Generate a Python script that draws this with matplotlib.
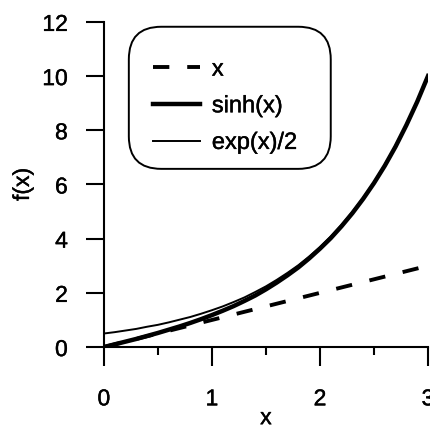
import matplotlib
matplotlib.use("Agg")
import matplotlib.pyplot as plt
import matplotlib.patheffects as pe
from matplotlib.patches import FancyBboxPatch
from matplotlib.ticker import MultipleLocator

plt.rcParams['font.family'] = ['Liberation Sans', 'DejaVu Sans']

x_vals = [0.0, 0.1, 0.2, 0.3, 0.4, 0.5, 0.6, 0.7, 0.8, 0.9, 1.0,
          1.1, 1.2, 1.3, 1.4, 1.5, 1.6, 1.7, 1.8, 1.9, 2.0,
          2.1, 2.2, 2.3, 2.4, 2.5, 2.6, 2.7, 2.8, 2.9, 3.0]
y_lin = [0.0, 0.1, 0.2, 0.3, 0.4, 0.5, 0.6, 0.7, 0.8, 0.9, 1.0,
         1.1, 1.2, 1.3, 1.4, 1.5, 1.6, 1.7, 1.8, 1.9, 2.0,
         2.1, 2.2, 2.3, 2.4, 2.5, 2.6, 2.7, 2.8, 2.9, 3.0]
y_sinh = [0.0, 0.1, 0.2, 0.3, 0.41, 0.52, 0.64, 0.76, 0.89, 1.03, 1.18,
          1.34, 1.51, 1.70, 1.90, 2.13, 2.38, 2.65, 2.94, 3.27, 3.63,
          4.02, 4.46, 4.94, 5.47, 6.05, 6.69, 7.40, 8.19, 9.05, 10.0]
y_exp = [0.5, 0.55, 0.61, 0.67, 0.75, 0.82, 0.91, 1.01, 1.11, 1.23, 1.36,
         1.50, 1.66, 1.83, 2.03, 2.24, 2.48, 2.74, 3.02, 3.34, 3.69,
         4.08, 4.51, 4.99, 5.51, 6.09, 6.73, 7.44, 8.22, 9.08, 10.04]
labels = ["x", "sinh(x)", "exp(x)/2"]

FS = 16.5
stroke = [pe.withStroke(linewidth=0.3, foreground='black')]

fig = plt.figure(figsize=(4.31, 4.29), dpi=100)
ax = fig.add_axes([0.241, 0.191, 0.752, 0.758])

ax.plot(x_vals, y_lin, color='black', lw=2.8, ls=(0, (4.2, 4.6)), label=labels[0])
ax.plot(x_vals, y_sinh, color='black', lw=3.2, label=labels[1])
ax.plot(x_vals, y_exp, color='black', lw=1.4, label=labels[2])

ax.set_xlim(0, 3)
ax.set_ylim(0, 12)
ax.set_xticks([0, 1, 2, 3])
ax.xaxis.set_minor_locator(MultipleLocator(0.5))
ax.set_yticks([0, 2, 4, 6, 8, 10, 12])

for s in ['top', 'right']:
    ax.spines[s].set_visible(False)
for s in ['left', 'bottom']:
    ax.spines[s].set_linewidth(1.5)

ax.tick_params(axis='y', which='major', length=13, width=1.5, labelsize=FS, pad=13)
ax.tick_params(axis='x', which='major', length=14, width=1.5, labelsize=FS, pad=15)
ax.tick_params(axis='x', which='minor', length=6, width=1.5)
for t in ax.get_xticklabels() + ax.get_yticklabels():
    t.set_clip_on(False)
    t.set_path_effects(stroke)

ax.set_xlabel('x', fontsize=FS, labelpad=-3)
ax.set_ylabel('f(x)', fontsize=FS, labelpad=6)
ax.xaxis.label.set_path_effects(stroke)
ax.yaxis.label.set_path_effects(stroke)

box = FancyBboxPatch((0.077, 0.548), 0.623, 0.437,
                     boxstyle='round,pad=0,rounding_size=0.10',
                     transform=ax.transAxes, facecolor='white',
                     edgecolor='black', lw=1.4, zorder=4, clip_on=False)
ax.add_patch(box)

leg = ax.legend(loc='upper left', bbox_to_anchor=(0.151, 0.887), frameon=False,
                fontsize=FS + 0.5, handlelength=2.0, handletextpad=0.5,
                labelspacing=0.62, borderpad=0, borderaxespad=0)
leg.set_zorder(5)
for t in leg.get_texts():
    t.set_path_effects(stroke)

fig.savefig('out.png', dpi=100)
